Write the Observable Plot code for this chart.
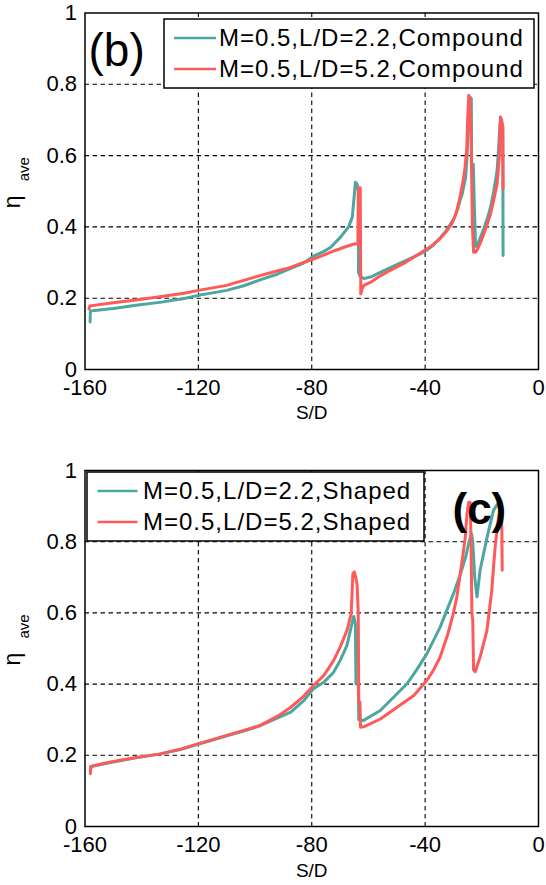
<!DOCTYPE html>
<html><head><meta charset="utf-8">
<script src="https://cdn.jsdelivr.net/npm/d3@7"></script>
<script src="https://cdn.jsdelivr.net/npm/@observablehq/plot@0.6"></script>
<style>
body{margin:0;background:#fff;}
#wrap{width:546px;}
svg{display:block;}
</style></head><body><div id="wrap"></div>
<script>
const xTicks = [-160, -120, -80, -40, 0];
const yTicks = [0, 0.2, 0.4, 0.6, 0.8, 1];
const xGrid = [-120, -80, -40];
const yGrid = [0.2, 0.4, 0.6, 0.8];
const namesB = ["M=0.5,L/D=2.2,Compound", "M=0.5,L/D=5.2,Compound"];
const namesC = ["M=0.5,L/D=2.2,Shaped", "M=0.5,L/D=5.2,Shaped"];
const colors = ["#4da6a0", "#ff5a5a"];
const xLabel = "S/D";
const yLabelMain = "η";
const yLabelSub = "ave";

// panel (b): [S/D, eta_ave]
const bTeal = [[-158.2,0.133],[-158.1,0.164],[-155,0.167],[-150,0.171],[-142,0.180],[-133,0.189],[-125,0.199],[-120,0.208],[-115,0.215],[-110,0.222],[-104,0.235],[-98,0.252],[-92,0.268],[-87,0.285],[-83,0.298],[-79.4,0.318],[-76,0.330],[-73.3,0.343],[-70,0.370],[-67,0.400],[-65.7,0.427],[-65.2,0.47],[-64.6,0.525],[-64.0,0.52],[-63.6,0.50],[-63.5,0.273],[-63.0,0.262],[-61.6,0.255],[-59,0.260],[-56,0.272],[-53,0.283],[-50,0.294],[-47,0.305],[-44,0.316],[-41.6,0.325],[-39.5,0.334],[-37,0.35],[-34.5,0.371],[-32.5,0.39],[-31,0.409],[-29.7,0.425],[-28.7,0.446],[-27.8,0.47],[-26.9,0.493],[-25.7,0.539],[-25.2,0.60],[-24.9,0.652],[-24.5,0.72],[-24.1,0.764],[-23.7,0.76],[-23.6,0.58],[-23.0,0.575],[-22.6,0.45],[-22.2,0.345],[-21.6,0.348],[-20.5,0.37],[-19.3,0.395],[-18,0.425],[-16.9,0.455],[-15.8,0.50],[-14.6,0.558],[-14.0,0.63],[-13.6,0.69],[-13.0,0.685],[-12.6,0.68],[-12.5,0.32]];
const bRed = [[-158.6,0.170],[-158.3,0.178],[-155,0.182],[-150,0.187],[-142,0.195],[-133,0.205],[-125,0.214],[-120,0.222],[-115,0.229],[-110,0.236],[-104,0.250],[-98,0.264],[-92,0.277],[-88,0.285],[-84,0.297],[-79.4,0.310],[-76,0.320],[-73.3,0.329],[-68.6,0.343],[-65.1,0.352],[-63.7,0.353],[-63.5,0.51],[-62.9,0.51],[-62.7,0.212],[-62.2,0.228],[-61.6,0.236],[-59.2,0.245],[-56,0.262],[-53,0.275],[-50,0.288],[-47,0.300],[-44,0.315],[-41,0.330],[-38,0.345],[-35,0.365],[-32.2,0.39],[-30.5,0.41],[-29,0.44],[-27.8,0.48],[-26.8,0.52],[-26,0.56],[-25.3,0.62],[-25,0.70],[-24.6,0.769],[-24.2,0.76],[-23.8,0.65],[-23.3,0.40],[-22.9,0.329],[-22.2,0.329],[-21.6,0.336],[-20.5,0.355],[-19.3,0.38],[-18,0.41],[-16.9,0.437],[-15.8,0.475],[-14.6,0.521],[-13.8,0.60],[-13.4,0.708],[-13.0,0.70],[-12.6,0.68],[-12.5,0.507]];

// panel (c)
const cTeal = [[-158.0,0.165],[-157,0.170],[-151,0.180],[-142.6,0.192],[-133.4,0.204],[-126,0.217],[-120.2,0.231],[-115,0.243],[-110,0.255],[-104,0.268],[-98.2,0.283],[-92,0.305],[-87.4,0.321],[-83,0.352],[-79.4,0.387],[-75.8,0.405],[-72.3,0.433],[-70,0.466],[-67.6,0.508],[-66.1,0.56],[-65.2,0.59],[-64.6,0.57],[-64.4,0.40],[-63.6,0.40],[-63.4,0.30],[-61.7,0.298],[-55.8,0.326],[-49.9,0.373],[-46.4,0.401],[-43,0.44],[-39.4,0.485],[-34.7,0.56],[-30.0,0.654],[-27.5,0.71],[-25.6,0.76],[-24.5,0.80],[-23.6,0.822],[-23.2,0.80],[-22.5,0.70],[-21.7,0.645],[-20.6,0.72],[-18.2,0.81],[-15.9,0.888],[-14.5,0.905],[-13.4,0.908]];
const cRed = [[-158.1,0.148],[-158.0,0.169],[-157,0.171],[-151,0.181],[-142.6,0.193],[-133.4,0.204],[-126,0.218],[-120.2,0.232],[-115,0.244],[-110,0.256],[-104,0.27],[-98.2,0.284],[-92,0.31],[-87.4,0.335],[-83,0.365],[-79.4,0.396],[-75.8,0.424],[-72.3,0.466],[-70.0,0.504],[-67.6,0.55],[-66.1,0.597],[-65.8,0.65],[-65.5,0.71],[-65.0,0.715],[-64.5,0.70],[-64.0,0.68],[-63.6,0.60],[-63.4,0.35],[-63.0,0.35],[-62.8,0.279],[-61.7,0.28],[-55.8,0.302],[-49.9,0.335],[-44.0,0.368],[-39.4,0.41],[-37,0.44],[-34.7,0.476],[-32,0.54],[-30,0.60],[-28.8,0.645],[-27.1,0.738],[-25.9,0.808],[-25.2,0.88],[-24.6,0.911],[-24.1,0.91],[-23.8,0.80],[-23.5,0.60],[-23.2,0.58],[-22.9,0.44],[-22.3,0.435],[-20.6,0.476],[-18.2,0.55],[-16.5,0.663],[-15.3,0.785],[-14.1,0.869],[-13.4,0.897],[-13.0,0.89],[-12.8,0.72]];

const FONT = "'Liberation Sans', Arial, Helvetica, sans-serif";
const fmt = d => String(d);

function panel(cfg) {
  const svg = Plot.plot({
    width: 546, height: cfg.height,
    marginTop: cfg.mt, marginBottom: cfg.mb, marginLeft: 84.5, marginRight: 8,
    style: {fontFamily: FONT, fontSize: "22px", background: "white", color: "black", overflow: "visible"},
    x: {domain: [-160, 0]},
    y: {domain: [0, 1]},
    marks: [
      Plot.gridX(xGrid, {stroke: "black", strokeOpacity: 1, strokeWidth: 1.1, strokeDasharray: "4.5,3.5"}),
      Plot.gridY(yGrid, {stroke: "black", strokeOpacity: 1, strokeWidth: 1.1, strokeDasharray: "4.5,3.5"}),
      Plot.line(cfg.teal, {x: d => d[0], y: d => d[1], stroke: colors[0], strokeWidth: 3}),
      Plot.line(cfg.red, {x: d => d[0], y: d => d[1], stroke: colors[1], strokeWidth: 3}),
      Plot.frame({stroke: "black", strokeWidth: 1.5}),
      Plot.axisX(xTicks, {tickSize: 0, tickPadding: 10, tickFormat: fmt, label: null}),
      Plot.axisY(yTicks, {tickSize: 0, tickPadding: 8, tickFormat: fmt, label: null}),
      Plot.text([xLabel], {frameAnchor: "bottom", lineAnchor: "middle", dy: cfg.xlabDy, fontSize: 19}),
      Plot.text([yLabelMain], {frameAnchor: "left", dx: -72, dy: 17, rotate: -90, fontSize: 23}),
      Plot.text([yLabelSub], {frameAnchor: "left", dx: -61, dy: -10, rotate: -90, fontSize: 15}),
      Plot.text([cfg.tag], {frameAnchor: "top-left", textAnchor: "start", lineAnchor: "middle", dx: cfg.tagDx, dy: cfg.tagDy, fontSize: cfg.tagSize, fontWeight: cfg.tagWeight})
    ]
  });
  // legend box (MATLAB style, white background)
  const L = cfg.legend;
  const g = d3.select(svg).append("g").attr("text-anchor", "start");
  g.append("rect").attr("x", L.x).attr("y", L.y).attr("width", L.w).attr("height", L.h)
    .attr("fill", "white").attr("stroke", "black").attr("stroke-width", 1.5);
  cfg.names.forEach((name, i) => {
    const y = L.rows[i];
    g.append("line").attr("x1", L.lx1).attr("x2", L.lx2).attr("y1", y).attr("y2", y)
      .attr("stroke", colors[i]).attr("stroke-width", 2.4);
    g.append("text").attr("x", L.tx).attr("y", y).attr("dy", "0.35em")
      .attr("text-anchor", "start")
      .attr("font-family", FONT).attr("font-size", 24).attr("letter-spacing", 1)
      .attr("fill", "black").text(name);
  });
  return svg;
}

const wrap = document.getElementById("wrap");
wrap.appendChild(panel({
  height: 440, mt: 12.5, mb: 71, teal: bTeal, red: bRed, xlabDy: 43,
  tag: "(b)", tagDx: 3.5, tagDy: 38, tagSize: 46, tagWeight: "normal", names: namesB,
  legend: {x: 164, y: 19, w: 370, h: 69, rows: [38, 69], lx1: 174, lx2: 216, tx: 219}
}));
wrap.appendChild(panel({
  height: 445, mt: 30, mb: 59, teal: cTeal, red: cRed, xlabDy: 44,
  tag: "(c)", tagDx: 367.5, tagDy: 39, tagSize: 44, tagWeight: "bold", names: namesC,
  legend: {x: 87, y: 32, w: 337, h: 69, rows: [51, 82], lx1: 97.5, lx2: 137.5, tx: 143}
}));
</script></body></html>
